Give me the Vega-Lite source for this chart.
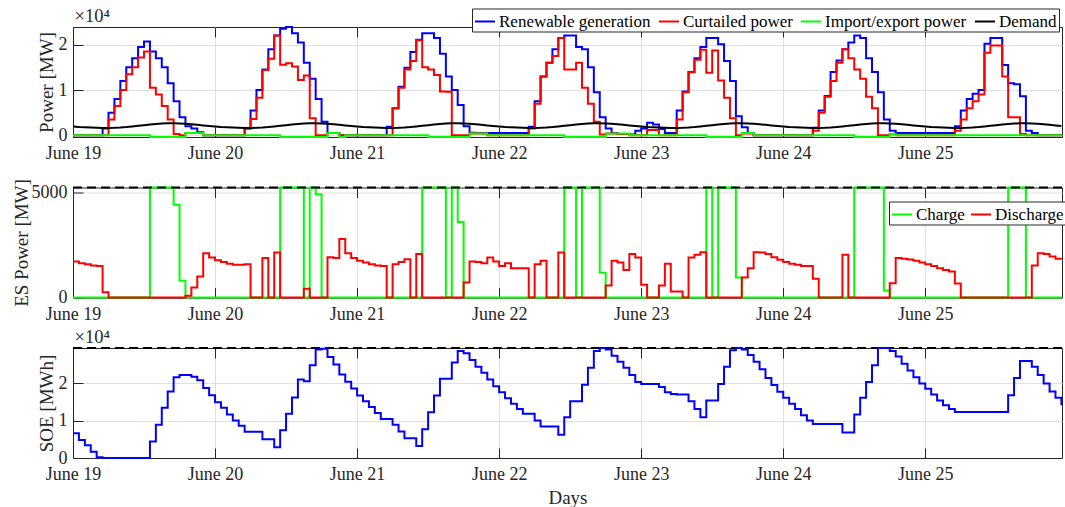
{
"$schema": "https://vega.github.io/schema/vega-lite/v6.json",
"background": "white",
"padding": {"left": 11, "top": 5, "right": 0, "bottom": 0},
"bounds": "flush",
"spacing": 50.5,
"resolve": {"scale": {"color": "independent"}, "legend": {"color": "independent"}},
"config": {
  "font": "Liberation Serif",
  "view": {"stroke": "#262626", "strokeWidth": 1},
  "axis": {"labelFont": "Liberation Serif", "labelFontSize": 18, "labelColor": "#262626", "titleFont": "Liberation Serif", "titleFontSize": 19, "titleFontWeight": "normal", "titleColor": "#262626", "domainColor": "#262626", "domainWidth": 1, "tickColor": "#262626", "tickSize": -10, "tickWidth": 1, "labelPadding": 16, "titlePadding": 1.5, "gridColor": "#dfdfdf", "gridWidth": 1},
  "axisBottom": {"labelPadding": 17.5},
  "legend": {"labelFont": "Liberation Serif", "labelFontSize": 17, "labelColor": "#000000"}
},
"data": {"values": [
{"h":0,"gen":0,"cur":0,"imp":0,"dem":1950,"ch":0,"dis":1710,"soe":6600},
{"h":1,"gen":0,"cur":0,"imp":0,"dem":1850,"ch":0,"dis":1630,"soe":4800},
{"h":2,"gen":0,"cur":0,"imp":0,"dem":1780,"ch":0,"dis":1580,"soe":3400},
{"h":3,"gen":0,"cur":0,"imp":0,"dem":1720,"ch":0,"dis":1520,"soe":1700},
{"h":4,"gen":0,"cur":0,"imp":0,"dem":1680,"ch":0,"dis":1490,"soe":200},
{"h":5,"gen":1500,"cur":0,"imp":0,"dem":1650,"ch":0,"dis":250,"soe":0},
{"h":6,"gen":5000,"cur":3500,"imp":0,"dem":1640,"ch":0,"dis":0,"soe":0},
{"h":7,"gen":8000,"cur":6500,"imp":0,"dem":1660,"ch":0,"dis":0,"soe":0},
{"h":8,"gen":12000,"cur":10000,"imp":0,"dem":1720,"ch":0,"dis":0,"soe":0},
{"h":9,"gen":15000,"cur":13500,"imp":0,"dem":1820,"ch":0,"dis":0,"soe":0},
{"h":10,"gen":17000,"cur":15000,"imp":0,"dem":1950,"ch":0,"dis":0,"soe":0},
{"h":11,"gen":19500,"cur":17200,"imp":0,"dem":2100,"ch":0,"dis":0,"soe":0},
{"h":12,"gen":20700,"cur":18500,"imp":0,"dem":2250,"ch":0,"dis":0,"soe":0},
{"h":13,"gen":18500,"cur":10500,"imp":-360,"dem":2400,"ch":5220,"dis":0,"soe":4400},
{"h":14,"gen":17000,"cur":9000,"imp":-360,"dem":2520,"ch":5220,"dis":0,"soe":8900},
{"h":15,"gen":15000,"cur":6500,"imp":-360,"dem":2610,"ch":5220,"dis":0,"soe":13400},
{"h":16,"gen":11500,"cur":3500,"imp":-360,"dem":2660,"ch":5220,"dis":0,"soe":17800},
{"h":17,"gen":7500,"cur":300,"imp":-360,"dem":2660,"ch":4400,"dis":0,"soe":21600},
{"h":18,"gen":4000,"cur":0,"imp":-360,"dem":2620,"ch":790,"dis":0,"soe":22200},
{"h":19,"gen":2000,"cur":500,"imp":500,"dem":2540,"ch":0,"dis":80,"soe":22200},
{"h":20,"gen":1500,"cur":500,"imp":500,"dem":2440,"ch":0,"dis":470,"soe":21700},
{"h":21,"gen":700,"cur":500,"imp":500,"dem":2320,"ch":0,"dis":1000,"soe":20800},
{"h":22,"gen":0,"cur":0,"imp":0,"dem":2200,"ch":0,"dis":2100,"soe":18700},
{"h":23,"gen":0,"cur":0,"imp":0,"dem":2070,"ch":0,"dis":1900,"soe":16800},
{"h":24,"gen":0,"cur":0,"imp":0,"dem":1950,"ch":0,"dis":1770,"soe":14900},
{"h":25,"gen":0,"cur":0,"imp":0,"dem":1850,"ch":0,"dis":1680,"soe":13400},
{"h":26,"gen":0,"cur":0,"imp":0,"dem":1780,"ch":0,"dis":1600,"soe":11600},
{"h":27,"gen":0,"cur":0,"imp":0,"dem":1720,"ch":0,"dis":1550,"soe":10000},
{"h":28,"gen":0,"cur":0,"imp":0,"dem":1680,"ch":0,"dis":1550,"soe":8600},
{"h":29,"gen":1500,"cur":1500,"imp":0,"dem":1650,"ch":0,"dis":1580,"soe":7000},
{"h":30,"gen":5500,"cur":3600,"imp":0,"dem":1640,"ch":0,"dis":0,"soe":7000},
{"h":31,"gen":10000,"cur":8300,"imp":0,"dem":1660,"ch":0,"dis":0,"soe":7000},
{"h":32,"gen":14500,"cur":14400,"imp":0,"dem":1720,"ch":0,"dis":1870,"soe":5000},
{"h":33,"gen":19000,"cur":16900,"imp":0,"dem":1820,"ch":0,"dis":0,"soe":5000},
{"h":34,"gen":22000,"cur":22000,"imp":0,"dem":1950,"ch":0,"dis":2140,"soe":2900},
{"h":35,"gen":23500,"cur":15600,"imp":-360,"dem":2100,"ch":5220,"dis":0,"soe":7400},
{"h":36,"gen":23900,"cur":15900,"imp":-360,"dem":2250,"ch":5220,"dis":0,"soe":11800},
{"h":37,"gen":22500,"cur":15200,"imp":-360,"dem":2400,"ch":5220,"dis":0,"soe":16200},
{"h":38,"gen":20500,"cur":12200,"imp":-360,"dem":2520,"ch":5220,"dis":0,"soe":21000},
{"h":39,"gen":16000,"cur":13200,"imp":-360,"dem":2610,"ch":0,"dis":410,"soe":20500},
{"h":40,"gen":12500,"cur":3800,"imp":-360,"dem":2660,"ch":5220,"dis":0,"soe":24800},
{"h":41,"gen":8000,"cur":0,"imp":-360,"dem":2660,"ch":4900,"dis":0,"soe":29000},
{"h":42,"gen":3000,"cur":0,"imp":-360,"dem":2620,"ch":0,"dis":0,"soe":29200},
{"h":43,"gen":500,"cur":500,"imp":500,"dem":2540,"ch":0,"dis":1910,"soe":27000},
{"h":44,"gen":500,"cur":500,"imp":500,"dem":2440,"ch":0,"dis":1870,"soe":25000},
{"h":45,"gen":0,"cur":0,"imp":-360,"dem":2320,"ch":0,"dis":2780,"soe":22300},
{"h":46,"gen":0,"cur":0,"imp":0,"dem":2200,"ch":0,"dis":2100,"soe":20400},
{"h":47,"gen":0,"cur":0,"imp":0,"dem":2070,"ch":0,"dis":1870,"soe":18600},
{"h":48,"gen":0,"cur":0,"imp":0,"dem":1950,"ch":0,"dis":1740,"soe":16700},
{"h":49,"gen":0,"cur":0,"imp":0,"dem":1850,"ch":0,"dis":1660,"soe":15200},
{"h":50,"gen":0,"cur":0,"imp":0,"dem":1780,"ch":0,"dis":1580,"soe":13600},
{"h":51,"gen":0,"cur":0,"imp":0,"dem":1720,"ch":0,"dis":1520,"soe":12000},
{"h":52,"gen":0,"cur":0,"imp":0,"dem":1680,"ch":0,"dis":1500,"soe":10400},
{"h":53,"gen":1900,"cur":0,"imp":0,"dem":1650,"ch":0,"dis":0,"soe":10400},
{"h":54,"gen":6000,"cur":6000,"imp":0,"dem":1640,"ch":0,"dis":1580,"soe":8900},
{"h":55,"gen":10700,"cur":10500,"imp":0,"dem":1660,"ch":0,"dis":1680,"soe":7100},
{"h":56,"gen":14900,"cur":14500,"imp":0,"dem":1720,"ch":0,"dis":1820,"soe":5300},
{"h":57,"gen":18400,"cur":16400,"imp":0,"dem":1820,"ch":0,"dis":0,"soe":5300},
{"h":58,"gen":21100,"cur":21000,"imp":0,"dem":1950,"ch":0,"dis":2070,"soe":3200},
{"h":59,"gen":22500,"cur":15000,"imp":0,"dem":2100,"ch":5220,"dis":0,"soe":7700},
{"h":60,"gen":22500,"cur":14500,"imp":-360,"dem":2250,"ch":5220,"dis":0,"soe":12200},
{"h":61,"gen":21500,"cur":13300,"imp":-360,"dem":2400,"ch":5220,"dis":0,"soe":16700},
{"h":62,"gen":18000,"cur":9700,"imp":-360,"dem":2520,"ch":5220,"dis":0,"soe":21200},
{"h":63,"gen":13000,"cur":9600,"imp":-360,"dem":2610,"ch":0,"dis":0,"soe":21200},
{"h":64,"gen":10000,"cur":0,"imp":-360,"dem":2660,"ch":5220,"dis":0,"soe":25500},
{"h":65,"gen":6700,"cur":0,"imp":-360,"dem":2660,"ch":3580,"dis":0,"soe":28600},
{"h":66,"gen":2000,"cur":0,"imp":-360,"dem":2620,"ch":0,"dis":710,"soe":28000},
{"h":67,"gen":600,"cur":400,"imp":400,"dem":2540,"ch":0,"dis":1710,"soe":26200},
{"h":68,"gen":500,"cur":400,"imp":400,"dem":2440,"ch":0,"dis":1680,"soe":24400},
{"h":69,"gen":500,"cur":400,"imp":400,"dem":2320,"ch":0,"dis":1630,"soe":22800},
{"h":70,"gen":500,"cur":0,"imp":0,"dem":2200,"ch":0,"dis":1900,"soe":21000},
{"h":71,"gen":500,"cur":0,"imp":0,"dem":2070,"ch":0,"dis":1710,"soe":19200},
{"h":72,"gen":500,"cur":0,"imp":0,"dem":1950,"ch":0,"dis":1500,"soe":17600},
{"h":73,"gen":500,"cur":0,"imp":0,"dem":1850,"ch":0,"dis":1630,"soe":16000},
{"h":74,"gen":500,"cur":0,"imp":0,"dem":1780,"ch":0,"dis":1390,"soe":14500},
{"h":75,"gen":500,"cur":0,"imp":0,"dem":1720,"ch":0,"dis":1390,"soe":13100},
{"h":76,"gen":500,"cur":0,"imp":0,"dem":1680,"ch":0,"dis":1390,"soe":11800},
{"h":77,"gen":1900,"cur":1500,"imp":0,"dem":1650,"ch":0,"dis":0,"soe":11800},
{"h":78,"gen":7500,"cur":7000,"imp":0,"dem":1640,"ch":0,"dis":1580,"soe":10000},
{"h":79,"gen":13000,"cur":13000,"imp":0,"dem":1660,"ch":0,"dis":1740,"soe":8400},
{"h":80,"gen":16000,"cur":16000,"imp":0,"dem":1720,"ch":0,"dis":0,"soe":8400},
{"h":81,"gen":19000,"cur":17500,"imp":0,"dem":1820,"ch":0,"dis":0,"soe":8400},
{"h":82,"gen":21500,"cur":21500,"imp":0,"dem":1950,"ch":0,"dis":2140,"soe":6200},
{"h":83,"gen":22000,"cur":14500,"imp":-360,"dem":2100,"ch":5220,"dis":0,"soe":10900},
{"h":84,"gen":22000,"cur":14500,"imp":-360,"dem":2250,"ch":5220,"dis":0,"soe":15200},
{"h":85,"gen":19500,"cur":16000,"imp":-360,"dem":2400,"ch":0,"dis":0,"soe":15200},
{"h":86,"gen":19000,"cur":10500,"imp":-360,"dem":2520,"ch":5220,"dis":0,"soe":19600},
{"h":87,"gen":15000,"cur":7000,"imp":-360,"dem":2610,"ch":5220,"dis":0,"soe":24100},
{"h":88,"gen":9500,"cur":3000,"imp":-360,"dem":2660,"ch":5220,"dis":0,"soe":28600},
{"h":89,"gen":4000,"cur":200,"imp":-360,"dem":2660,"ch":1170,"dis":0,"soe":29400},
{"h":90,"gen":1500,"cur":400,"imp":400,"dem":2620,"ch":0,"dis":570,"soe":29000},
{"h":91,"gen":500,"cur":400,"imp":400,"dem":2540,"ch":0,"dis":1740,"soe":27300},
{"h":92,"gen":300,"cur":300,"imp":400,"dem":2440,"ch":0,"dis":1660,"soe":25700},
{"h":93,"gen":300,"cur":300,"imp":400,"dem":2320,"ch":0,"dis":1300,"soe":24100},
{"h":94,"gen":200,"cur":0,"imp":0,"dem":2200,"ch":0,"dis":2070,"soe":22200},
{"h":95,"gen":1000,"cur":0,"imp":0,"dem":2070,"ch":0,"dis":1900,"soe":20300},
{"h":96,"gen":1500,"cur":0,"imp":0,"dem":1950,"ch":0,"dis":600,"soe":19800},
{"h":97,"gen":2800,"cur":1200,"imp":0,"dem":1850,"ch":0,"dis":0,"soe":19800},
{"h":98,"gen":2400,"cur":1200,"imp":0,"dem":1780,"ch":0,"dis":0,"soe":19800},
{"h":99,"gen":1400,"cur":0,"imp":0,"dem":1720,"ch":0,"dis":570,"soe":19000},
{"h":100,"gen":500,"cur":0,"imp":0,"dem":1680,"ch":0,"dis":1600,"soe":17600},
{"h":101,"gen":500,"cur":0,"imp":0,"dem":1650,"ch":0,"dis":285,"soe":17100},
{"h":102,"gen":5500,"cur":3500,"imp":0,"dem":1640,"ch":0,"dis":285,"soe":17000},
{"h":103,"gen":9700,"cur":9500,"imp":0,"dem":1660,"ch":0,"dis":0,"soe":17000},
{"h":104,"gen":14000,"cur":13900,"imp":0,"dem":1720,"ch":0,"dis":1900,"soe":15200},
{"h":105,"gen":17000,"cur":16700,"imp":0,"dem":1820,"ch":0,"dis":2030,"soe":13100},
{"h":106,"gen":19500,"cur":18900,"imp":0,"dem":1950,"ch":0,"dis":2150,"soe":10900},
{"h":107,"gen":21500,"cur":13800,"imp":-360,"dem":2100,"ch":5220,"dis":0,"soe":15400},
{"h":108,"gen":21500,"cur":18700,"imp":-360,"dem":2250,"ch":0,"dis":0,"soe":15400},
{"h":109,"gen":20100,"cur":12100,"imp":-360,"dem":2400,"ch":5220,"dis":0,"soe":19800},
{"h":110,"gen":16400,"cur":8300,"imp":-360,"dem":2520,"ch":5220,"dis":0,"soe":24400},
{"h":111,"gen":12000,"cur":3800,"imp":-360,"dem":2610,"ch":5220,"dis":0,"soe":28800},
{"h":112,"gen":4200,"cur":0,"imp":-360,"dem":2660,"ch":950,"dis":0,"soe":29400},
{"h":113,"gen":1800,"cur":400,"imp":500,"dem":2660,"ch":0,"dis":950,"soe":29000},
{"h":114,"gen":500,"cur":400,"imp":500,"dem":2620,"ch":0,"dis":1390,"soe":27500},
{"h":115,"gen":0,"cur":0,"imp":0,"dem":2540,"ch":0,"dis":2150,"soe":25700},
{"h":116,"gen":0,"cur":0,"imp":0,"dem":2440,"ch":0,"dis":2140,"soe":23700},
{"h":117,"gen":0,"cur":0,"imp":0,"dem":2320,"ch":0,"dis":2070,"soe":21400},
{"h":118,"gen":0,"cur":0,"imp":0,"dem":2200,"ch":0,"dis":1910,"soe":19500},
{"h":119,"gen":0,"cur":0,"imp":0,"dem":2070,"ch":0,"dis":1790,"soe":17700},
{"h":120,"gen":0,"cur":0,"imp":0,"dem":1950,"ch":0,"dis":1680,"soe":16100},
{"h":121,"gen":0,"cur":0,"imp":0,"dem":1850,"ch":0,"dis":1600,"soe":14500},
{"h":122,"gen":0,"cur":0,"imp":0,"dem":1780,"ch":0,"dis":1550,"soe":13100},
{"h":123,"gen":0,"cur":0,"imp":0,"dem":1720,"ch":0,"dis":1500,"soe":11400},
{"h":124,"gen":0,"cur":0,"imp":0,"dem":1680,"ch":0,"dis":1500,"soe":10000},
{"h":125,"gen":1700,"cur":1000,"imp":0,"dem":1650,"ch":0,"dis":890,"soe":9100},
{"h":126,"gen":5500,"cur":5000,"imp":0,"dem":1640,"ch":0,"dis":0,"soe":9100},
{"h":127,"gen":8700,"cur":8500,"imp":0,"dem":1660,"ch":0,"dis":0,"soe":9100},
{"h":128,"gen":14000,"cur":12000,"imp":0,"dem":1720,"ch":0,"dis":0,"soe":9100},
{"h":129,"gen":16500,"cur":16000,"imp":0,"dem":1820,"ch":0,"dis":0,"soe":9100},
{"h":130,"gen":19000,"cur":19000,"imp":0,"dem":1950,"ch":0,"dis":2030,"soe":6800},
{"h":131,"gen":20500,"cur":17000,"imp":0,"dem":2100,"ch":0,"dis":0,"soe":6800},
{"h":132,"gen":22000,"cur":14500,"imp":-360,"dem":2250,"ch":5220,"dis":0,"soe":11600},
{"h":133,"gen":21500,"cur":12500,"imp":-360,"dem":2400,"ch":5220,"dis":0,"soe":16100},
{"h":134,"gen":17000,"cur":8500,"imp":-360,"dem":2520,"ch":5220,"dis":0,"soe":20300},
{"h":135,"gen":14000,"cur":6000,"imp":-360,"dem":2610,"ch":5220,"dis":0,"soe":24800},
{"h":136,"gen":9500,"cur":0,"imp":-360,"dem":2660,"ch":5220,"dis":0,"soe":29400},
{"h":137,"gen":3500,"cur":0,"imp":-360,"dem":2660,"ch":330,"dis":0,"soe":29400},
{"h":138,"gen":1000,"cur":300,"imp":300,"dem":2620,"ch":0,"dis":680,"soe":28600},
{"h":139,"gen":500,"cur":0,"imp":0,"dem":2540,"ch":0,"dis":1870,"soe":27100},
{"h":140,"gen":500,"cur":0,"imp":0,"dem":2440,"ch":0,"dis":1840,"soe":25200},
{"h":141,"gen":500,"cur":0,"imp":0,"dem":2320,"ch":0,"dis":1800,"soe":23400},
{"h":142,"gen":500,"cur":0,"imp":0,"dem":2200,"ch":0,"dis":1740,"soe":21600},
{"h":143,"gen":500,"cur":0,"imp":0,"dem":2070,"ch":0,"dis":1660,"soe":19900},
{"h":144,"gen":500,"cur":0,"imp":0,"dem":1950,"ch":0,"dis":1580,"soe":18500},
{"h":145,"gen":500,"cur":0,"imp":0,"dem":1850,"ch":0,"dis":1500,"soe":17000},
{"h":146,"gen":500,"cur":0,"imp":0,"dem":1780,"ch":0,"dis":1390,"soe":15400},
{"h":147,"gen":500,"cur":0,"imp":0,"dem":1720,"ch":0,"dis":1310,"soe":14100},
{"h":148,"gen":500,"cur":0,"imp":0,"dem":1680,"ch":0,"dis":1230,"soe":13100},
{"h":149,"gen":2000,"cur":1000,"imp":0,"dem":1650,"ch":0,"dis":660,"soe":12300},
{"h":150,"gen":5500,"cur":3500,"imp":0,"dem":1640,"ch":0,"dis":0,"soe":12300},
{"h":151,"gen":8000,"cur":6000,"imp":0,"dem":1660,"ch":0,"dis":0,"soe":12300},
{"h":152,"gen":9200,"cur":7500,"imp":0,"dem":1720,"ch":0,"dis":0,"soe":12300},
{"h":153,"gen":10000,"cur":9000,"imp":0,"dem":1820,"ch":0,"dis":0,"soe":12300},
{"h":154,"gen":20200,"cur":18200,"imp":0,"dem":1950,"ch":0,"dis":0,"soe":12300},
{"h":155,"gen":21500,"cur":19800,"imp":0,"dem":2100,"ch":0,"dis":0,"soe":12300},
{"h":156,"gen":21500,"cur":19800,"imp":0,"dem":2250,"ch":0,"dis":0,"soe":12300},
{"h":157,"gen":15500,"cur":13000,"imp":0,"dem":2400,"ch":0,"dis":0,"soe":12300},
{"h":158,"gen":11500,"cur":4000,"imp":0,"dem":2520,"ch":5220,"dis":0,"soe":16800},
{"h":159,"gen":11300,"cur":4000,"imp":0,"dem":2610,"ch":5220,"dis":0,"soe":21400},
{"h":160,"gen":8600,"cur":300,"imp":0,"dem":2660,"ch":5220,"dis":0,"soe":25900},
{"h":161,"gen":1000,"cur":0,"imp":0,"dem":2660,"ch":0,"dis":0,"soe":25900},
{"h":162,"gen":500,"cur":0,"imp":0,"dem":2620,"ch":0,"dis":1520,"soe":24400},
{"h":163,"gen":0,"cur":0,"imp":0,"dem":2540,"ch":0,"dis":2100,"soe":22200},
{"h":164,"gen":0,"cur":0,"imp":0,"dem":2440,"ch":0,"dis":2070,"soe":19900},
{"h":165,"gen":0,"cur":0,"imp":0,"dem":2320,"ch":0,"dis":1950,"soe":17800},
{"h":166,"gen":0,"cur":0,"imp":0,"dem":2200,"ch":0,"dis":1840,"soe":16100},
{"h":167,"gen":0,"cur":0,"imp":0,"dem":2070,"ch":0,"dis":1800,"soe":14100}
]},
"vconcat": [
{
  "width": 989, "height": 110,
  "resolve": {"axis": {"x": "independent"}},
  "layer": [
    {
      "transform": [{"fold": ["gen", "cur", "imp"], "as": ["s", "v"]}],
      "mark": {"type": "line", "interpolate": "step-after", "strokeWidth": 2},
      "encoding": {
        "x": {"field": "h", "type": "quantitative", "scale": {"domain": [0, 167.1], "nice": false, "zero": false}, "axis": {"values": [0, 24, 48, 72, 96, 120, 144], "labelExpr": "'June ' + (19 + round(datum.value/24))", "labelFlush": false, "title": null, "grid": true}},
        "y": {"field": "v", "type": "quantitative", "scale": {"domain": [-360, 23900], "nice": false, "zero": false}, "axis": {"values": [0, 10000, 20000], "labelExpr": "datum.value/10000", "title": "Power [MW]", "grid": true}},
        "color": {"field": "s", "type": "nominal", "scale": {"domain": ["gen", "cur", "imp", "dem"], "range": ["#0000ff", "#ff0000", "#00ff00", "#000000"]},
          "legend": {"orient": "none", "legendX": 399, "legendY": -18.5, "direction": "horizontal", "title": null, "symbolType": "stroke", "symbolSize": 400, "symbolStrokeWidth": 2, "strokeColor": "#262626", "fillColor": "#ffffff", "padding": 2, "columnPadding": 4, "labelOffset": 3,
            "labelExpr": "datum.label == 'gen' ? 'Renewable generation' : datum.label == 'cur' ? 'Curtailed power' : datum.label == 'imp' ? 'Import/export power' : 'Demand'"}}
      }
    },
    {
      "transform": [{"fold": ["dem"], "as": ["s", "v"]}],
      "mark": {"type": "line", "strokeWidth": 2},
      "encoding": {
        "x": {"field": "h", "type": "quantitative", "axis": {"orient": "top", "values": [0, 24, 48, 72, 96, 120, 144], "labels": false, "domain": false, "grid": false, "title": "×10⁴", "titleAngle": 0, "titleAlign": "left", "titleBaseline": "alphabetic", "titleX": 1, "titleY": -6, "titleFontSize": 18.5}},
        "y": {"field": "v", "type": "quantitative"},
        "color": {"field": "s", "type": "nominal"}
      }
    }
  ]
},
{
  "width": 989, "height": 110,
  "resolve": {"axis": {"x": "independent"}},
  "layer": [
    {
      "transform": [{"fold": ["ch", "dis"], "as": ["s", "v"]}],
      "mark": {"type": "line", "interpolate": "step-after", "strokeWidth": 2},
      "encoding": {
        "x": {"field": "h", "type": "quantitative", "scale": {"domain": [0, 167.1], "nice": false, "zero": false}, "axis": {"values": [0, 24, 48, 72, 96, 120, 144], "labelExpr": "'June ' + (19 + round(datum.value/24))", "labelFlush": false, "title": null, "grid": true}},
        "y": {"field": "v", "type": "quantitative", "scale": {"domain": [0, 5220], "nice": false, "zero": false}, "axis": {"values": [0, 5000], "format": "d", "title": "ES Power [MW]", "titlePadding": 0, "grid": true}},
        "color": {"field": "s", "type": "nominal", "scale": {"domain": ["ch", "dis"], "range": ["#00ff00", "#ff0000"]},
          "legend": {"orient": "none", "legendX": 816, "legendY": 14, "direction": "horizontal", "title": null, "symbolType": "stroke", "symbolSize": 400, "symbolStrokeWidth": 2, "strokeColor": "#262626", "fillColor": "#ffffff", "padding": 2, "columnPadding": 2, "labelOffset": 3,
            "labelExpr": "datum.label == 'ch' ? 'Charge' : 'Discharge'"}}
      }
    },
    {
      "mark": {"type": "line", "strokeOpacity": 0},
      "encoding": {
        "x": {"field": "h", "type": "quantitative", "axis": {"orient": "top", "values": [0, 24, 48, 72, 96, 120, 144], "labels": false, "domain": false, "grid": false, "title": null}},
        "y": {"field": "ch", "type": "quantitative"}
      }
    },
    {
      "data": {"values": [{"cap": 5220}]},
      "mark": {"type": "rule", "strokeDash": [9, 5], "strokeWidth": 2, "color": "#000000"},
      "encoding": {"y": {"field": "cap", "type": "quantitative"}}
    }
  ]
},
{
  "width": 989, "height": 110,
  "resolve": {"axis": {"x": "independent"}},
  "layer": [
    {
      "data": {"values": [{"cap": 29400}]},
      "mark": {"type": "rule", "strokeDash": [9, 5], "strokeWidth": 2, "color": "#000000"},
      "encoding": {"y": {"field": "cap", "type": "quantitative", "scale": {"domain": [0, 29400], "nice": false, "zero": false}}}
    },
    {
      "mark": {"type": "line", "interpolate": "step-after", "strokeWidth": 2, "color": "#0000ff"},
      "encoding": {
        "x": {"field": "h", "type": "quantitative", "scale": {"domain": [0, 167.1], "nice": false, "zero": false}, "axis": {"values": [0, 24, 48, 72, 96, 120, 144], "labelExpr": "'June ' + (19 + round(datum.value/24))", "labelFlush": false, "title": "Days", "titlePadding": 5, "grid": true}},
        "y": {"field": "soe", "type": "quantitative", "scale": {"domain": [0, 29400], "nice": false, "zero": false}, "axis": {"values": [0, 10000, 20000], "labelExpr": "datum.value/10000", "title": "SOE [MWh]", "grid": true}}
      }
    },
    {
      "mark": {"type": "line", "strokeOpacity": 0},
      "encoding": {
        "x": {"field": "h", "type": "quantitative", "axis": {"orient": "top", "values": [0, 24, 48, 72, 96, 120, 144], "labels": false, "domain": false, "grid": false, "title": "×10⁴", "titleAngle": 0, "titleAlign": "left", "titleBaseline": "alphabetic", "titleX": 1, "titleY": -6, "titleFontSize": 18.5}},
        "y": {"field": "soe", "type": "quantitative"}
      }
    }
  ]
}
]
}
